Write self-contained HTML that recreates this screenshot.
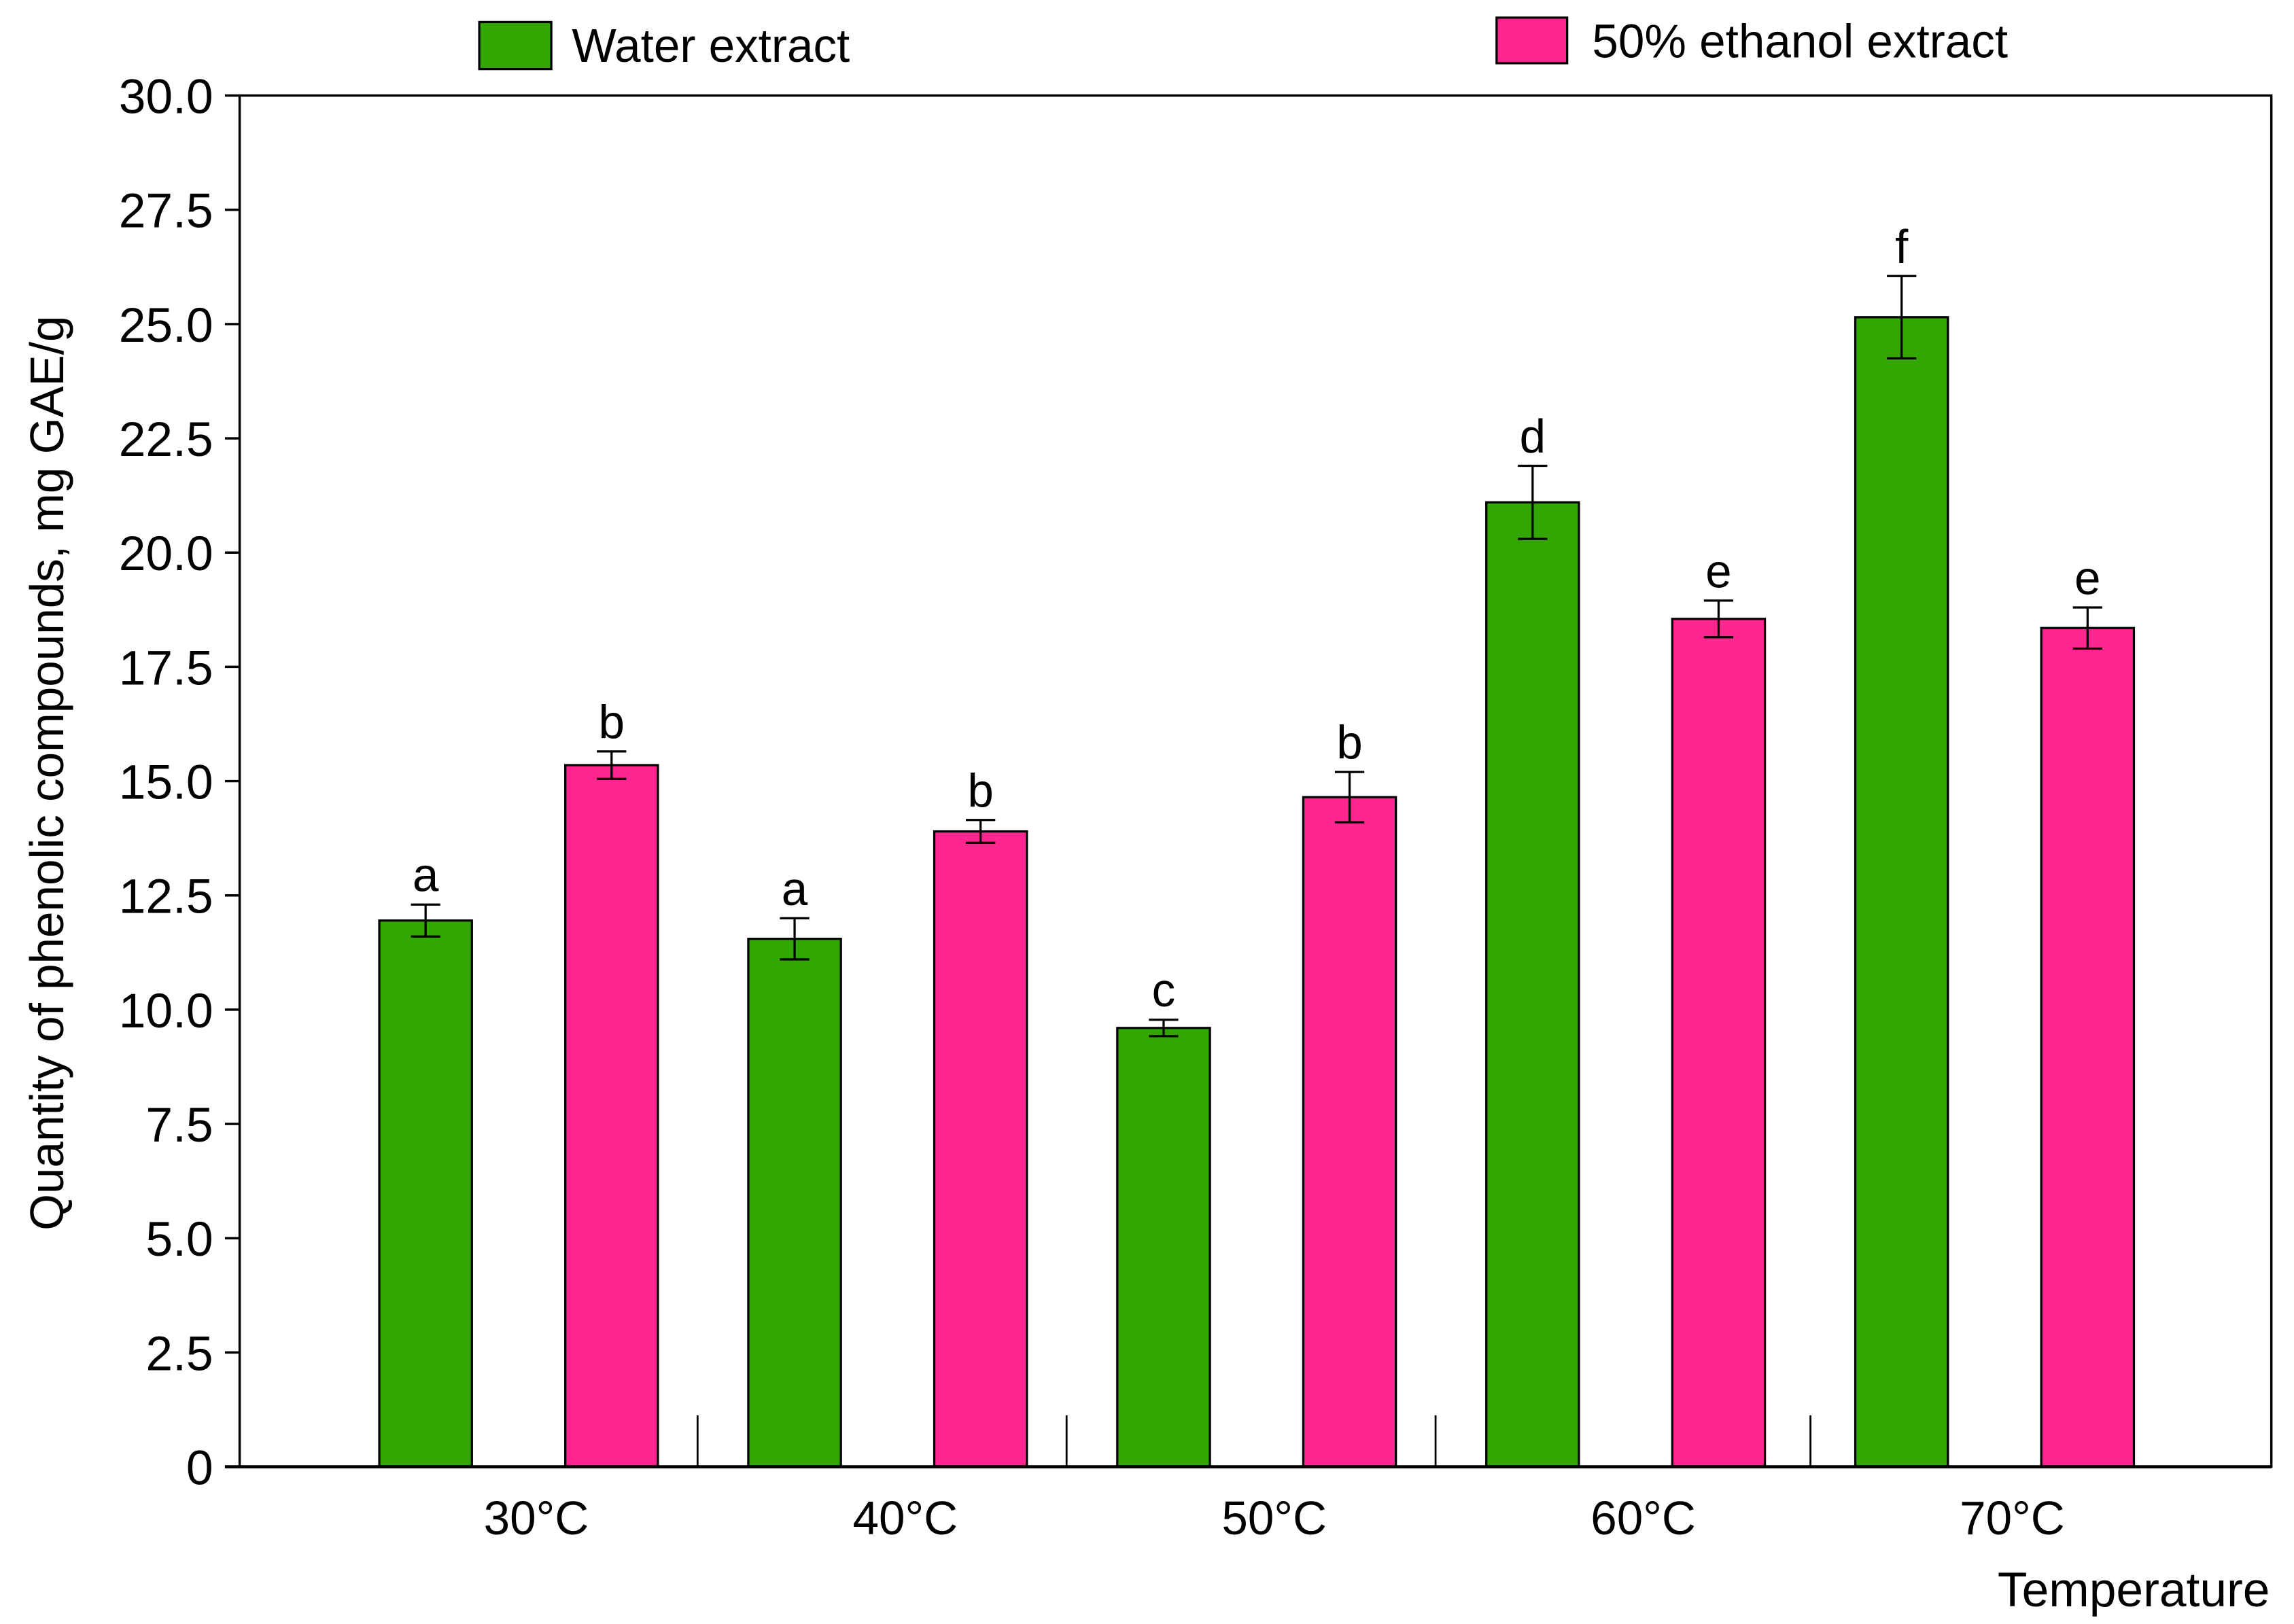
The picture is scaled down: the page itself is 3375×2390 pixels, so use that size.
<!DOCTYPE html>
<html><head><meta charset="utf-8"><style>
html,body{margin:0;padding:0;background:#fff;}
svg{display:block;font-family:"Liberation Sans",Arial,sans-serif;}
</style></head><body>
<svg id="chart" width="3375" height="2390" viewBox="0 0 1560.4 1105" xmlns="http://www.w3.org/2000/svg">
<rect width="1560.4" height="1105" fill="#fff"/>
<g id="legend">
  <g>
    <rect x="326" y="15" width="49" height="32" fill="#33a602" stroke="#000" stroke-width="1.5"/>
    <text x="389" y="42" font-size="32">Water extract</text>
  </g>
  <g>
    <rect x="1018" y="12" width="48" height="31" fill="#ff268f" stroke="#000" stroke-width="1.5"/>
    <text x="1083" y="39" font-size="32">50% ethanol extract</text>
  </g>
</g>
<g id="yaxis"></g>
<g id="bars"></g>
<rect x="163" y="65" width="1382" height="933" fill="none" stroke="#000" stroke-width="1.6"/>
<line x1="153" y1="998" x2="1545" y2="998" stroke="#000" stroke-width="2.2"/>
<g id="xaxis"></g>
<text transform="translate(43,526) rotate(-90)" text-anchor="middle" font-size="32">Quantity of phenolic compounds, mg GAE/g</text>
<text x="1544" y="1093" text-anchor="end" font-size="33">Temperature</text>
</svg>
<script>
const categories = ["30°C","40°C","50°C","60°C","70°C"];
const waterValues = [11.95, 11.55, 9.6, 21.1, 25.15];
const waterErrors = [0.35, 0.45, 0.18, 0.8, 0.9];
const waterLetters = ["a","a","c","d","f"];
const ethanolValues = [15.35, 13.9, 14.65, 18.55, 18.35];
const ethanolErrors = [0.3, 0.25, 0.55, 0.4, 0.45];
const ethanolLetters = ["b","b","b","e","e"];
const yTicks = [0, 2.5, 5, 7.5, 10, 12.5, 15, 17.5, 20, 22.5, 25, 27.5, 30];
const yTickLabels = ["0","2.5","5.0","7.5","10.0","12.5","15.0","17.5","20.0","22.5","25.0","27.5","30.0"];

const NS = "http://www.w3.org/2000/svg";
const Y0 = 998, Y1 = 65, VMAX = 30;
function yScale(v){ return Y0 - (v / VMAX) * (Y0 - Y1); }
const GROUP0 = 258, GROUP_STEP = 251, BAR_W = 63, PINK_OFF = 126.5;
function xWater(i){ return GROUP0 + i * GROUP_STEP; }
function xEthanol(i){ return GROUP0 + PINK_OFF + i * GROUP_STEP; }
function mk(tag, attrs, parent){ const e = document.createElementNS(NS, tag); for (const k in attrs) e.setAttribute(k, attrs[k]); parent.appendChild(e); return e; }

const yaxis = document.getElementById('yaxis');
yTicks.forEach((t, i) => {
  const y = yScale(t);
  const tk = mk('line', {x1:153, x2:163, y1:y, y2:y, stroke:'#000', 'stroke-width':1.6}, yaxis);
  
  
  const lb = mk('text', {x:145, y:y + 12, 'text-anchor':'end', 'font-size':33}, yaxis);
  lb.textContent = yTickLabels[i];
  
  
});

const bars = document.getElementById('bars');
function drawBar(x, v, err, letter, color, name){
  const g = mk('g', {}, bars);
  
  
  const yt = yScale(v);
  mk('rect', {x:x, y:yt, width:BAR_W, height:Y0 - yt, fill:color, stroke:'#000', 'stroke-width':1.5}, g);
  const cx = x + BAR_W / 2, ya = yScale(v + err), yb = yScale(v - err);
  mk('line', {x1:cx, x2:cx, y1:ya, y2:yb, stroke:'#000', 'stroke-width':1.5}, g);
  mk('line', {x1:cx - 10, x2:cx + 10, y1:ya, y2:ya, stroke:'#000', 'stroke-width':1.5}, g);
  mk('line', {x1:cx - 10, x2:cx + 10, y1:yb, y2:yb, stroke:'#000', 'stroke-width':1.5}, g);
  const t = mk('text', {x:cx, y:ya - 9, 'text-anchor':'middle', 'font-size':32}, g);
  t.textContent = letter;
  
  
}
categories.forEach((c, i) => {
  drawBar(xWater(i), waterValues[i], waterErrors[i], waterLetters[i], '#33a602', 'bar-water-' + i);
  drawBar(xEthanol(i), ethanolValues[i], ethanolErrors[i], ethanolLetters[i], '#ff268f', 'bar-ethanol-' + i);
});

const xaxis = document.getElementById('xaxis');
categories.forEach((c, i) => {
  const cx = (xWater(i) + xEthanol(i) + BAR_W) / 2 + 12;
  const t = mk('text', {x:cx, y:1044, 'text-anchor':'middle', 'font-size':32}, xaxis);
  t.textContent = c;
  
  
  if (i < categories.length - 1) {
    const sx = xEthanol(i) + BAR_W + 27 + (i === 3 ? 4 : 0);
    const s = mk('line', {x1:sx, x2:sx, y1:963, y2:998, stroke:'#000', 'stroke-width':1.3}, xaxis);
    
    
  }
});
</script>
</body></html>
